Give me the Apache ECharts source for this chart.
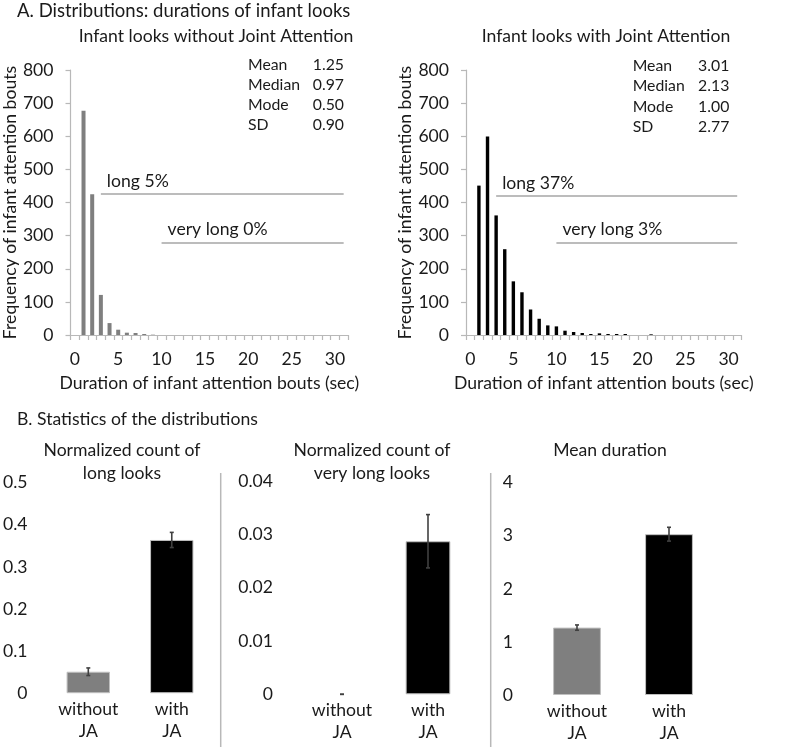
<!DOCTYPE html>
<html>
<head>
<meta charset="utf-8">
<script src="https://cdn.jsdelivr.net/npm/echarts@6/dist/echarts.min.js"></script>
<style>html,body{margin:0;padding:0;background:#fff;}#c{width:800px;height:752px;}</style>
</head>
<body>
<div id="c"></div>
<script>
// ---------- DATA ----------
var durationCats = [];
for (var i = 0; i <= 31; i++) durationCats.push(String(i));
var countsWithoutJA = [0, 677, 425, 121, 36, 16, 7, 6, 3, 1, 0, 0, 0, 0, 0, 0, 0, 0, 0, 0, 0, 0, 0, 0, 0, 0, 0, 0, 0, 0, 0, 0];
var countsWithJA    = [0, 451, 599, 361, 259, 162, 129, 77, 49, 29, 26, 13, 9, 6, 3, 5, 3, 3, 3, 0, 0, 2, 0, 0, 0, 0, 0, 0, 0, 0, 0, 0];
var freqTicks = [0, 800, 100];
var statsWithoutJA = [['Mean', '1.25'], ['Median', '0.97'], ['Mode', '0.50'], ['SD', '0.90']];
var statsWithJA    = [['Mean', '3.01'], ['Median', '2.13'], ['Mode', '1.00'], ['SD', '2.77']];
var longLineWithout = { from: '3', to: '31', y: 425, text: 'long 5%' };
var veryLongLineWithout = { from: '10', to: '31', y: 280, text: 'very long 0%' };
var longLineWith = { from: '3', to: '31', y: 420, text: 'long 37%' };
var veryLongLineWith = { from: '10', to: '31', y: 280, text: 'very long 3%' };

var groupCats = ['without\nJA', 'with\nJA'];
var longLooksMean = [0.051, 0.364];
var longLooksErr = [0.009, 0.018];
var veryLongMean = [0, 0.0287];
var veryLongErr = [0, 0.005];
var meanDurMean = [1.27, 3.03];
var meanDurErr = [0.05, 0.13];
var longLooksAxis = [0, 0.5, 0.1];
var veryLongAxis = [0, 0.04, 0.01];
var meanDurAxis = [0, 4, 1];

// ---------- STYLE ----------
var FONT = 'Lato';
var TXT = '#1a1a1a';
var FS = 17.6;
var AXC = '#b8b8b8';
var GRAY = '#7f7f7f';

var chart = echarts.init(document.getElementById('c'), null, { renderer: 'canvas' });

function histX(gi) {
  return {
    type: 'category', gridIndex: gi, data: durationCats, boundaryGap: true,
    name: 'Duration of infant attention bouts (sec)', nameLocation: 'middle', nameGap: 39,
    nameTextStyle: { fontFamily: FONT, fontSize: FS, color: TXT },
    axisLine: { show: true, lineStyle: { color: AXC, width: 1.2 } },
    axisTick: { show: true, interval: 0, length: 5, lineStyle: { color: AXC, width: 1.2 } },
    axisLabel: { interval: 4, margin: 15, fontFamily: FONT, fontSize: FS, color: TXT },
    splitLine: { show: false }
  };
}
function histY(gi) {
  return {
    type: 'value', gridIndex: gi, min: freqTicks[0], max: freqTicks[1], interval: freqTicks[2],
    name: 'Frequency of infant attention bouts', nameLocation: 'middle', nameGap: 49, nameRotate: 90,
    nameTextStyle: { fontFamily: FONT, fontSize: FS, color: TXT },
    axisLine: { show: true, lineStyle: { color: AXC, width: 1.2 } },
    axisTick: { show: true, length: 5, lineStyle: { color: AXC, width: 1.2 } },
    axisLabel: { margin: 17, fontFamily: FONT, fontSize: FS, color: TXT },
    splitLine: { show: false }
  };
}
function groupX(gi) {
  return {
    type: 'category', gridIndex: gi, data: groupCats,
    axisLine: { show: false }, axisTick: { show: false },
    axisLabel: { margin: 5, fontFamily: FONT, fontSize: FS, color: TXT, lineHeight: 22 },
    splitLine: { show: false }
  };
}
function groupY(gi, ax, margin) {
  return {
    type: 'value', gridIndex: gi, min: ax[0], max: ax[1], interval: ax[2],
    axisLine: { show: false }, axisTick: { show: false },
    axisLabel: { margin: margin, fontFamily: FONT, fontSize: FS, color: TXT },
    splitLine: { show: false }
  };
}
function markLines(a, b) {
  function one(m) {
    return [
      { coord: [m.from, m.y], label: { show: true, formatter: m.text, position: 'insideStartTop', distance: [6, 4], fontFamily: FONT, fontSize: FS, color: TXT } },
      { coord: [m.to, m.y] }
    ];
  }
  return {
    silent: true, symbol: 'none', animation: false,
    lineStyle: { color: '#a6a6a6', width: 1.5, type: 'solid' },
    data: [one(a), one(b)]
  };
}
function groupBars(gi, means) {
  return {
    type: 'bar', xAxisIndex: gi, yAxisIndex: gi, barWidth: '52%',
    data: means.map(function (v, i) {
      return { value: v, itemStyle: { color: i === 0 ? GRAY : '#000', borderColor: '#bfbfbf', borderWidth: v > 0 ? 1 : 0 } };
    }),
    animation: false
  };
}
function errBars(gi, means, errs) {
  return {
    type: 'custom', xAxisIndex: gi, yAxisIndex: gi, z: 5,
    data: means.map(function (v, i) { return [i, v, errs[i]]; }),
    encode: { x: 0, y: 1 },
    renderItem: function (params, api) {
      var x = api.value(0), v = api.value(1), e = api.value(2);
      var hi = api.coord([x, v + e]);
      var lo = api.coord([x, v - e]);
      var st = { stroke: '#404040', lineWidth: 1.6 };
      var hw = 2;
      return {
        type: 'group', children: [
          { type: 'line', shape: { x1: hi[0], y1: hi[1], x2: lo[0], y2: lo[1] }, style: st },
          { type: 'line', shape: { x1: hi[0] - hw, y1: hi[1], x2: hi[0] + hw, y2: hi[1] }, style: st },
          { type: 'line', shape: { x1: lo[0] - hw, y1: lo[1], x2: lo[0] + hw, y2: lo[1] }, style: st }
        ]
      };
    },
    animation: false
  };
}
function statsText(rows, xl, xr, y0) {
  var out = [];
  rows.forEach(function (r, i) {
    var y = y0 + i * 20.2;
    out.push({ type: 'text', x: xl, y: y, style: { text: r[0], font: '15.8px ' + FONT, fill: TXT, textAlign: 'left', textVerticalAlign: 'middle' } });
    out.push({ type: 'text', x: xr, y: y, style: { text: r[1], font: '15.8px ' + FONT, fill: TXT, textAlign: 'right', textVerticalAlign: 'middle' } });
  });
  return out;
}

var titleStyle = { fontFamily: FONT, fontSize: FS, fontWeight: 'normal', color: TXT, lineHeight: 23 };

var option = {
  backgroundColor: '#fff',
  animation: false,
  textStyle: { fontFamily: FONT },
  title: [
    { text: 'A. Distributions: durations of infant looks', left: 12, top: -5, textStyle: Object.assign({}, titleStyle, { fontSize: 18.5 }) },
    { text: 'Infant looks without Joint Attention', left: 211, top: 19.5, textAlign: 'center', textStyle: titleStyle },
    { text: 'Infant looks with Joint Attention', left: 601, top: 19.5, textAlign: 'center', textStyle: titleStyle },
    { text: 'B. Statistics of the distributions', left: 12, top: 403, textStyle: titleStyle },
    { text: 'Normalized count of\nlong looks', left: 117, top: 433.5, textAlign: 'center', textStyle: titleStyle },
    { text: 'Normalized count of\nvery long looks', left: 367, top: 433.5, textAlign: 'center', textStyle: titleStyle },
    { text: 'Mean duration', left: 605, top: 433.5, textAlign: 'center', textStyle: titleStyle }
  ],
  grid: [
    { left: 70.5, top: 70, width: 277.5, height: 265 },
    { left: 466, top: 70, width: 275.5, height: 265 },
    { left: 46, top: 482.7, width: 167.5, height: 210.5 },
    { left: 299, top: 481, width: 172, height: 213.3 },
    { left: 531, top: 482.7, width: 184, height: 212.3 }
  ],
  xAxis: [histX(0), histX(1), groupX(2), groupX(3), groupX(4)],
  yAxis: [histY(0), histY(1), groupY(2, longLooksAxis, 19), groupY(3, veryLongAxis, 26), groupY(4, meanDurAxis, 18)],
  series: [
    { type: 'bar', xAxisIndex: 0, yAxisIndex: 0, data: countsWithoutJA, barWidth: 4, itemStyle: { color: GRAY },
      markLine: markLines(longLineWithout, veryLongLineWithout) },
    { type: 'bar', xAxisIndex: 1, yAxisIndex: 1, data: countsWithJA, barWidth: 3.4, itemStyle: { color: '#000' },
      markLine: markLines(longLineWith, veryLongLineWith) },
    groupBars(2, longLooksMean), errBars(2, longLooksMean, longLooksErr),
    groupBars(3, veryLongMean), errBars(3, veryLongMean, veryLongErr),
    groupBars(4, meanDurMean), errBars(4, meanDurMean, meanDurErr)
  ],
  graphic: [
    { type: 'line', shape: { x1: 220.7, y1: 473, x2: 220.7, y2: 747 }, style: { stroke: '#b8b8b8', lineWidth: 1.5 } },
    { type: 'line', shape: { x1: 490.7, y1: 473, x2: 490.7, y2: 747 }, style: { stroke: '#b8b8b8', lineWidth: 1.5 } }
  ].concat(statsText(statsWithoutJA, 248, 344, 64.5)).concat(statsText(statsWithJA, 632.7, 729.3, 66))
};
chart.setOption(option);
</script>
</body>
</html>
